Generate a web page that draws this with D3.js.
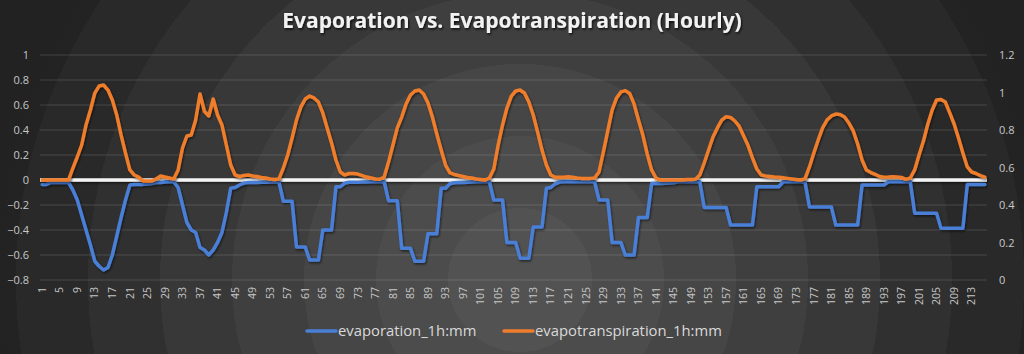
<!DOCTYPE html>
<html><head><meta charset="utf-8">
<script src="https://cdn.jsdelivr.net/npm/d3@7"></script>
<style>
html,body{margin:0;padding:0;background:#2a2a2a;}
svg{display:block;}
text{font-family:"Open Sans",sans-serif;}
</style></head>
<body>
<svg id="chart" width="1024" height="354"></svg>
<script>
// ---- data ----
const categories = d3.range(1, 217).map(String);
const xTickLabels = d3.range(1, 217, 4).map(String);
const leftTicks = [-0.8,-0.6,-0.4,-0.2,0,0.2,0.4,0.6,0.8,1];
const rightTicks = [0,0.2,0.4,0.6,0.8,1,1.2];
const seriesNames = ["evaporation_1h:mm","evapotranspiration_1h:mm"];
const evaporation = [
-0.035,-0.035,-0.02,-0.02,-0.02,-0.02,-0.02,-0.08,-0.16,-0.28,-0.4,-0.52,-0.65,-0.69,-0.72,-0.7,-0.6,-0.45,-0.3,-0.16,-0.04,-0.036,-0.035,-0.035,
-0.032,-0.028,-0.02,-0.02,-0.016,-0.014,-0.014,-0.06,-0.2,-0.34,-0.4,-0.42,-0.54,-0.56,-0.6,-0.56,-0.5,-0.42,-0.26,-0.065,-0.06,-0.04,-0.025,-0.02,
-0.02,-0.02,-0.018,-0.018,-0.016,-0.016,-0.014,-0.17,-0.17,-0.17,-0.535,-0.535,-0.535,-0.64,-0.64,-0.64,-0.4,-0.4,-0.4,-0.054,-0.054,-0.025,-0.018,-0.018,
-0.018,-0.016,-0.016,-0.014,-0.014,-0.014,-0.014,-0.165,-0.165,-0.165,-0.546,-0.546,-0.546,-0.65,-0.65,-0.65,-0.43,-0.43,-0.43,-0.066,-0.066,-0.03,-0.022,-0.02,
-0.02,-0.018,-0.016,-0.015,-0.014,-0.014,-0.014,-0.16,-0.16,-0.16,-0.5,-0.5,-0.5,-0.625,-0.625,-0.625,-0.375,-0.375,-0.375,-0.066,-0.06,-0.03,-0.016,-0.014,
-0.014,-0.014,-0.014,-0.014,-0.014,-0.014,-0.014,-0.16,-0.16,-0.16,-0.5,-0.5,-0.5,-0.6,-0.6,-0.6,-0.3,-0.3,-0.3,-0.028,-0.028,-0.028,-0.026,-0.024,
-0.022,-0.014,-0.014,-0.014,-0.014,-0.014,-0.014,-0.22,-0.22,-0.22,-0.22,-0.22,-0.22,-0.36,-0.36,-0.36,-0.36,-0.36,-0.36,-0.054,-0.054,-0.054,-0.054,-0.054,
-0.054,-0.014,-0.014,-0.014,-0.014,-0.014,-0.018,-0.215,-0.215,-0.215,-0.215,-0.215,-0.215,-0.36,-0.36,-0.36,-0.36,-0.36,-0.36,-0.04,-0.04,-0.04,-0.04,-0.04,
-0.04,-0.014,-0.014,-0.014,-0.014,-0.014,-0.014,-0.265,-0.265,-0.265,-0.265,-0.265,-0.265,-0.385,-0.385,-0.385,-0.385,-0.385,-0.385,-0.035,-0.035,-0.035,-0.035,-0.035
];
const evapotranspiration = [
0.533,0.533,0.533,0.533,0.533,0.533,0.533,0.597,0.656,0.72,0.827,0.907,0.997,1.035,1.04,1.013,0.96,0.88,0.773,0.677,0.587,0.56,0.549,0.528,
0.528,0.528,0.539,0.555,0.549,0.544,0.539,0.587,0.704,0.768,0.773,0.853,0.992,0.9,0.875,0.965,0.88,0.827,0.72,0.613,0.56,0.552,0.557,0.56,
0.555,0.552,0.547,0.544,0.539,0.536,0.539,0.597,0.667,0.757,0.853,0.923,0.965,0.981,0.971,0.949,0.891,0.811,0.731,0.64,0.576,0.56,0.568,0.568,
0.565,0.557,0.549,0.544,0.539,0.537,0.549,0.629,0.72,0.811,0.869,0.939,0.987,1.008,1.013,0.992,0.944,0.869,0.779,0.693,0.613,0.571,0.563,0.557,
0.552,0.547,0.544,0.539,0.536,0.533,0.544,0.592,0.72,0.827,0.917,0.981,1.008,1.013,0.997,0.949,0.88,0.789,0.693,0.613,0.56,0.548,0.548,0.548,
0.551,0.548,0.544,0.542,0.542,0.542,0.544,0.576,0.683,0.795,0.907,0.971,1.003,1.01,0.995,0.939,0.853,0.773,0.672,0.587,0.544,0.533,0.533,0.533,
0.533,0.533,0.533,0.536,0.536,0.537,0.56,0.624,0.693,0.763,0.811,0.853,0.871,0.867,0.848,0.819,0.768,0.717,0.651,0.592,0.56,0.555,0.552,0.549,
0.548,0.545,0.542,0.539,0.536,0.533,0.541,0.603,0.677,0.747,0.811,0.853,0.875,0.885,0.883,0.869,0.837,0.795,0.725,0.64,0.587,0.573,0.563,0.552,
0.548,0.549,0.551,0.549,0.547,0.537,0.544,0.587,0.667,0.741,0.832,0.907,0.96,0.963,0.949,0.891,0.832,0.757,0.677,0.603,0.576,0.568,0.557,0.549
];
const colors = ["#4a7fd6","#ef7d2c"];

// ---- layout ----
const W = 1024, H = 354;
const plot = {left: 40, right: 987, top: 55, bottom: 280};
const svg = d3.select("#chart");
const defs = svg.append("defs");

// background radial gradient with bands
const rg = defs.append("radialGradient").attr("id","bg")
  .attr("gradientUnits","userSpaceOnUse").attr("cx",520).attr("cy",280).attr("r",600);
const bands = [["#525252",0],["#525252",0.12],["#4c4c4c",0.12],["#4c4c4c",0.24],["#464646",0.24],["#464646",0.36],
  ["#3f3f3f",0.36],["#3f3f3f",0.48],["#383838",0.48],["#383838",0.6],["#303030",0.6],["#303030",0.72],
  ["#292929",0.72],["#292929",0.84],["#232323",0.84],["#212121",1]];
bands.forEach(([c,o]) => rg.append("stop").attr("offset",o).attr("stop-color",c));
svg.append("rect").attr("width",W).attr("height",H).attr("fill","url(#bg)");

const sh = defs.append("filter").attr("id","shadow").attr("filterUnits","userSpaceOnUse")
  .attr("x",0).attr("y",0).attr("width",W).attr("height",H);
sh.append("feDropShadow").attr("dx",1).attr("dy",1.5).attr("stdDeviation",1.2).attr("flood-color","#000").attr("flood-opacity",0.55);
const tsh = defs.append("filter").attr("id","tshadow").attr("filterUnits","userSpaceOnUse")
  .attr("x",0).attr("y",0).attr("width",W).attr("height",H);
tsh.append("feDropShadow").attr("dx",1).attr("dy",1.5).attr("stdDeviation",1).attr("flood-color","#000").attr("flood-opacity",0.8);

// ---- scales ----
const x = d3.scaleBand().domain(categories).range([plot.left, plot.right]);
const xc = d => x(d) + x.bandwidth()/2;
const yL = d3.scaleLinear().domain([-0.8, 1]).range([plot.bottom, plot.top]);
const yR = d3.scaleLinear().domain([0, 1.2]).range([plot.bottom, plot.top]);

// gridlines
svg.append("g").selectAll("line").data(leftTicks.filter(t => t !== 0)).join("line")
  .attr("x1",plot.left).attr("x2",plot.right)
  .attr("y1",d=>yL(d)).attr("y2",d=>yL(d))
  .attr("stroke","#ffffff").attr("stroke-opacity",0.14).attr("stroke-width",1);

// left axis
const gl = svg.append("g").attr("transform",`translate(${plot.left - 11},0)`)
  .call(d3.axisLeft(yL).tickValues(leftTicks).tickSize(0).tickFormat(d3.format("")));
gl.select(".domain").remove();
gl.selectAll("text").attr("fill","#c8c8c8").style("font-size","11px").attr("x",0);

// right axis
const gr = svg.append("g").attr("transform",`translate(${plot.right + 12},0)`)
  .call(d3.axisRight(yR).tickValues(rightTicks).tickSize(0).tickFormat(d3.format("")));
gr.select(".domain").remove();
gr.selectAll("text").attr("fill","#c8c8c8").style("font-size","11px").attr("x",0);

// x axis
const gx = svg.append("g").attr("transform",`translate(0,${plot.bottom})`)
  .call(d3.axisBottom(x).tickValues(xTickLabels).tickSize(0));
gx.select(".domain").remove();
gx.selectAll("text").attr("fill","#c8c8c8").style("font-size","10.5px")
  .attr("text-anchor","end").attr("dy","0.35em")
  .attr("transform","translate(0,7) rotate(-90)").attr("x",0).attr("y",0);

// zero axis line (white)
svg.append("line").attr("x1",plot.left).attr("x2",plot.right)
  .attr("y1",yL(0)).attr("y2",yL(0)).attr("stroke","#f4f4f4").attr("stroke-width",3.5)
  .attr("filter","url(#shadow)");

// series
const lineL = d3.line().x((d,i)=>xc(categories[i])).y(d=>yL(d));
const lineR = d3.line().x((d,i)=>xc(categories[i])).y(d=>yR(d));
svg.append("path").datum(evaporation).attr("d",lineL).attr("fill","none")
  .attr("stroke",colors[0]).attr("stroke-width",3.5).attr("stroke-linejoin","round").attr("stroke-linecap","round")
  .attr("filter","url(#shadow)");
svg.append("path").datum(evapotranspiration).attr("d",lineR).attr("fill","none")
  .attr("stroke",colors[1]).attr("stroke-width",3.5).attr("stroke-linejoin","round").attr("stroke-linecap","round")
  .attr("filter","url(#shadow)");

// title
svg.append("text").attr("x",512).attr("y",28).attr("text-anchor","middle")
  .attr("fill","#f2f2f2").style("font-size","21px").style("font-weight","bold")
  .attr("filter","url(#tshadow)")
  .text("Evaporation vs. Evapotranspiration (Hourly)");

// legend
const legX = [307, 504];
const lg = svg.append("g");
seriesNames.forEach((n,i)=>{
  lg.append("line").attr("x1",legX[i]).attr("x2",legX[i]+29).attr("y1",331).attr("y2",331)
    .attr("stroke",colors[i]).attr("stroke-width",3.5).attr("stroke-linecap","round");
  lg.append("text").attr("x",legX[i]+31).attr("y",331).attr("dy","0.35em")
    .attr("fill","#d9d9d9").style("font-size","14.8px").text(n);
});
</script>
</body></html>
